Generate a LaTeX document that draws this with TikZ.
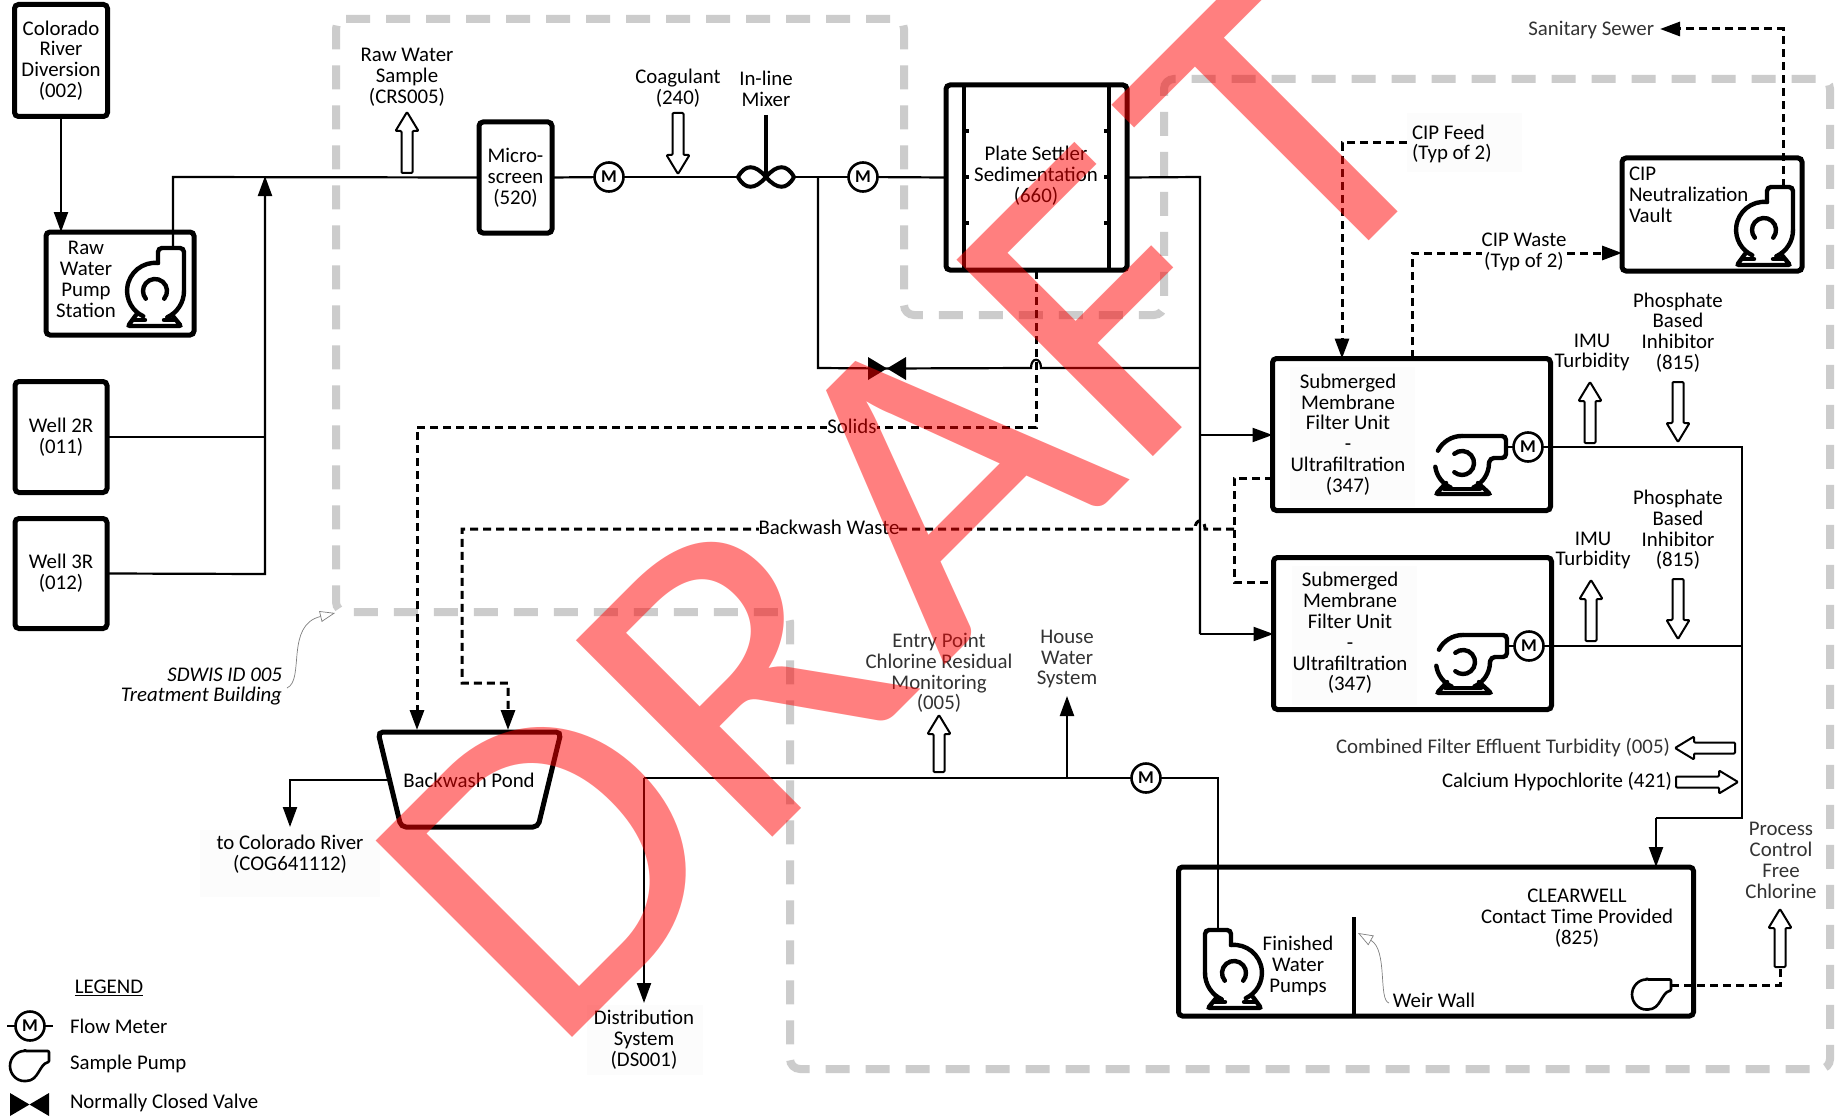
\documentclass[tikz,border=0pt]{standalone}
\usepackage{fontspec}
\setmainfont{Carlito}
\newfontfamily\draftfont[Kerning=Off]{Carlito}
\usetikzlibrary{arrows.meta}
\definecolor{bldggray}{HTML}{CCCCCC}
\definecolor{softtext}{HTML}{333333}
\definecolor{faintpanel}{HTML}{FCFCFC}
\tikzset{
  box/.style={draw=black,line width=5pt,rounded corners=4pt,inner sep=0pt,outer sep=0pt,align=center,font=\lab},
  lbl/.style={inner sep=0pt,outer sep=0pt,align=center,font=\lab},
  flow/.style={draw=black,line width=2.2pt},
  flowa/.style={flow,-{Triangle[length=20pt,width=14pt]}},
  dashln/.style={draw=black,line width=3pt,dash pattern=on 8pt off 5pt},
  dashar/.style={dashln,-{Triangle[length=20pt,width=14pt]}},
  bldg/.style={draw=bldggray,line width=8pt,dash pattern=on 24pt off 16pt,rounded corners=10pt},
  hollow/.style={draw=black,line width=2pt,fill=white,rounded corners=1pt,line join=round},
  meter/.style={circle,draw=black,line width=2.6pt,fill=white,minimum size=29pt,inner sep=0pt,outer sep=0pt,font=\fontsize{18}{18}\selectfont\bfseries},
  callout/.style={draw=gray,line width=.7pt,-{Triangle[open,fill=white,length=15pt,width=11pt]}},
  pump/.pic={
    \begin{scope}[y=1pt,line width=4.4pt,line cap=round]
      \draw (3,28) arc[start angle=84,end angle=245,radius=28pt];
      \draw[rounded corners=4pt] (3,28) -- (3,43) -- (29,43) -- (29,0);
      \draw (29,0) arc[start angle=0,end angle=-65,radius=29pt];
      \draw (9.2,-7.7) arc[start angle=-40,end angle=220,radius=12pt];
      \draw[rounded corners=2pt] (-19,-24) -- (-27,-35) -- (26,-35) -- (17,-24);
      \draw (-22,-29) -- (-10,-29) (9,-29) -- (20,-29);
    \end{scope}
  },
  fpump/.pic={
    \begin{scope}[y=1pt,line width=4.4pt,line cap=round]
      \draw (-24.1,12.3) arc[start angle=153,end angle=90,radius=27pt];
      \draw[rounded corners=4pt] (0,27) -- (44,27) -- (44,5) -- (28,5) -- (27,0);
      \draw (27,0) arc[start angle=0,end angle=-65,radius=27pt];
      \draw (-26.7,-3.8) arc[start angle=188,end angle=245,radius=27pt];
      \draw (-7.7,9.2) arc[start angle=130,end angle=-130,radius=12pt];
      \draw[rounded corners=2pt] (-16,-20) -- (-26,-31) -- (28,-31) -- (16,-20);
      \draw (-18,-26) -- (18,-26);
    \end{scope}
  },
  spump/.pic={
    \begin{scope}[y=1pt,line width=2.6pt,line join=round]
      \draw[rounded corners=1pt] (0,15) -- (24,15) -- (24,4) .. controls (14,2) and (14,-15) .. (0,-15) arc[start angle=-90,end angle=-270,radius=15pt] -- cycle;
    \end{scope}
  },
}
\newcommand{\lab}{\fontsize{20.85}{20.8}\selectfont}
\newcommand{\harrow}[4]{\draw[hollow,shift={(#1,#2)},rotate=#3,y=1pt] (0,0) -- (-11.5,-19) -- (-5.5,-19) -- (-5.5,-#4) -- (5.5,-#4) -- (5.5,-19) -- (11.5,-19) -- cycle;}
\begin{document}
\begin{tikzpicture}[x=1pt,y=-1pt]
\useasboundingbox (0,0) rectangle (1843,1118);
\fill[white] (0,0) rectangle (1843,1118);
\clip (0,0) rectangle (1843,1118);
% faint label panels
\fill[faintpanel] (200,830) rectangle (380,897);
\fill[faintpanel] (587,1005) rectangle (703,1075);
\fill[faintpanel] (1407,113) rectangle (1522,172);
\fill[faintpanel] (1290,367) rectangle (1415,507);
\fill[faintpanel] (1292,566) rectangle (1417,705);
% building outline
\draw[bldg] (336,19) -- (904,19) -- (904,315) -- (1164,315) -- (1164,79) -- (1830,79) -- (1830,1069) -- (790,1069) -- (790,612) -- (336,612) -- cycle;

% boxes
\node[box,minimum width=93pt,minimum height=112pt] (colorado) at (61,60.5) {Colorado\\River\\Diversion\\(002)};
\node[box,minimum width=148pt,minimum height=103pt] (rawbox) at (120,283.5) {};
\node[box,minimum width=92pt,minimum height=111pt] (well2) at (61,437) {Well 2R\\(011)};
\node[box,minimum width=92pt,minimum height=110pt] (well3) at (61,573.5) {Well 3R\\(012)};
\node[box,minimum width=73pt,minimum height=111pt] (micro) at (515.5,177.5) {Micro-\\screen\\(520)};
\node[box,minimum width=181pt,minimum height=185pt] (settler) at (1036.5,177.5) {};
\node[box,minimum width=180pt,minimum height=113pt] (cip) at (1712,214.5) {};
\node[box,minimum width=278pt,minimum height=152pt] (f1) at (1411.5,434.5) {};
\node[box,minimum width=278pt,minimum height=152pt] (f2) at (1412.5,633.5) {};
\node[box,minimum width=515pt,minimum height=149pt] (clear) at (1436,941.5) {};

% settler internals
\draw[line width=4.5pt] (964,84) -- (964,271) (1109,84) -- (1109,271);
\draw[line width=4pt] (964,131) -- (969,131) (964,177) -- (969,177) (964,223) -- (969,223)
  (1109,131) -- (1104,131) (1109,177) -- (1104,177) (1109,223) -- (1104,223);
% weir wall
\draw[line width=3.5pt] (1354,917) -- (1354,1017);

% junction coordinates
\coordinate (rawout) at (173,248);
\coordinate (mainL) at (173,177);
\coordinate (jw) at (265,177);
\coordinate (mixL) at (738,177);
\coordinate (mixR) at (796,177);
\coordinate (jrec) at (818,177);
\coordinate (jset) at (1200,177);
\coordinate (recb) at (818,368);
\coordinate (jvr) at (1200,368);
\coordinate (hopA) at (1031,368);
\coordinate (hopB) at (1041,368);
\coordinate (jf1) at (1200,435);
\coordinate (jf2) at (1200,634);
\coordinate (w2j) at (265,437);
\coordinate (w3j) at (265,574);
\coordinate (valve) at (887,368.5);

% meters
\node[meter] (m1) at (609,177) {M};
\node[meter] (m2) at (863,177) {M};
\node[meter] (m3) at (1528,447) {M};
\node[meter] (m4) at (1529,646) {M};
\node[meter] (m5) at (1146,778) {M};

% raw water lines
\draw[flowa] (colorado.south) -- (colorado.south |- rawbox.north);
\draw[flow] (rawout) -- (mainL) -- (micro.west);
\draw[flow] (well2.east) -- (w2j);
\draw[flowa,shorten >=-1pt] (well3.east) -- (w3j) -- (jw);
\draw[flow] (micro.east) -- (m1);
\draw[flow] (m1) -- (mixL);
\draw[flow] (mixR) -- (m2);
\draw[flow] (m2) -- (settler.west);
\draw[flow] (settler.east) -- (jset) -- (jf2);
\draw[flowa] (jf1) -- (f1.west |- jf1);
\draw[flowa] (jf2) -- (f2.west |- jf2);
\draw[flow] (jrec) -- (recb) -- (valve);
\draw[flow] (valve) -- (hopA) .. controls (1031,357) and (1041,357) .. (hopB) -- (jvr);
\fill (868,357) -- (868,380) -- (valve) -- cycle;
\fill (906,357) -- (906,380) -- (valve) -- cycle;

% mixer
\draw[line width=4pt] (766,115) -- (766,177);
\draw[line width=4pt] (766,177) .. controls (755,164) and (745,164) .. (mixL) .. controls (745,190) and (755,190) .. (766,177)
  .. controls (777,164) and (787,164) .. (794,177) .. controls (787,190) and (777,190) .. (766,177);

% filter output lines
\coordinate (jout1) at (1742,447);
\coordinate (jout2) at (1742,646);
\coordinate (jout3) at (1742,818);
\coordinate (jout4) at (1656,818);
\coordinate (o1) at (1506,447);
\coordinate (o2) at (1507,646);
\draw[flow] (o1) -- (m3);
\draw[flow] (o2) -- (m4);
\draw[flow] (m3) -- (jout1) -- (jout3) -- (jout4);
\draw[flow] (m4) -- (jout2);
\draw[flowa] (jout4) -- (jout4 |- clear.north);

% finished water
\coordinate (fpout) at (1218,928);
\coordinate (fpup) at (1218,778);
\coordinate (distj) at (644,778);
\coordinate (housej) at (1067,778);
\coordinate (housetip) at (1067,696);
\coordinate (disttip) at (644,1003);
\draw[flow] (fpout) -- (fpup) -- (m5);
\draw[flow] (m5) -- (distj);
\draw[flowa] (housej) -- (housetip);
\draw[flowa] (distj) -- (disttip);

% pond
\draw[line width=5pt,rounded corners=5pt] (378,732) -- (561,732) -- (538,827) -- (401,827) -- cycle;
\node[lbl] (pond) at (469,780) {Backwash Pond};
\coordinate (pondw) at (388,780);
\coordinate (pondj) at (290,780);
\coordinate (pondtip) at (290,827);
\draw[flowa] (pondw) -- (pondj) -- (pondtip);

% dashed lines
\coordinate (setb) at (1036,271);
\coordinate (solc) at (1036,427);
\coordinate (soll) at (417,427);
\coordinate (solt) at (417,730);
\draw[dashar] (setb) -- (solc) -- (soll) -- (solt);
\coordinate (bwj) at (1234,529);
\coordinate (bwh1) at (1205,529);
\coordinate (bwh2) at (1195,529);
\coordinate (bwl) at (462,529);
\coordinate (bwd) at (462,683);
\coordinate (bwr) at (508,683);
\coordinate (bwt) at (508,730);
\draw[dashar] (bwj) -- (bwh1) .. controls (1205,518) and (1195,518) .. (bwh2) -- (bwl) -- (bwd) -- (bwr) -- (bwt);
\coordinate (bf1) at (1273,478);
\coordinate (bfa) at (1234,478);
\coordinate (bfb) at (1234,582);
\coordinate (bf2) at (1274,582);
\draw[dashln] (bf1) -- (bfa) -- (bfb) -- (bf2);
\coordinate (cfs) at (1407,143);
\coordinate (cfc) at (1342,143);
\draw[dashar] (cfs) -- (cfc) -- (cfc |- f1.north);
\coordinate (cwb) at (1412,358);
\coordinate (cwc) at (1412,253);
\draw[dashar] (cwb) -- (cwc) -- (cwc -| cip.west);
\coordinate (ssb) at (1783,187);
\coordinate (ssc) at (1783,29);
\coordinate (sst) at (1660,29);
\draw[dashar] (ssb) -- (ssc) -- (sst);
\coordinate (sps) at (1671,985);
\coordinate (spc) at (1780,985);
\coordinate (spu) at (1780,967);
\draw[dashln] (sps) -- (spc) -- (spu);

% pumps
\pic at (155,291) {pump};
\pic at (1764,230) {pump};
\pic[xscale=-1] at (1234,973) {pump};
\pic at (1462,463) {fpump};
\pic at (1463,662) {fpump};
\pic at (1647,994.5) {spump};
\pic at (25,1066) {spump};

% hollow arrows
\harrow{407}{112}{0}{61}
\harrow{678}{174}{180}{61}
\harrow{1590}{382}{0}{61}
\harrow{1678}{442}{180}{60}
\harrow{1591}{580}{0}{61}
\harrow{1678}{639}{180}{60}
\harrow{939}{715}{0}{57}
\harrow{1675}{748}{90}{60}
\harrow{1738}{782}{-90}{62}
\harrow{1780}{909}{0}{58}

% labels
\node[lbl] (lrws) at (407,77.5) {Raw Water\\Sample\\(CRS005)};
\node[lbl] (lrwp) at (86,279.5) {Raw\\Water\\Pump\\Station};
\node[lbl] (lcoag) at (678,88.5) {Coagulant\\(240)};
\node[lbl] (lmix) at (766,89) {In-line\\Mixer};
\node[lbl] (lset) at (1036,176) {Plate Settler\\Sedimentation\\(660)};
\node[lbl,text=softtext,anchor=east] (lsan) at (1654,30) {Sanitary Sewer};
\node[lbl,align=left,anchor=west] (lcf) at (1412,144) {CIP Feed\\ (Typ of 2)};
\node[lbl,fill=white] (lcw) at (1524,252) {CIP Waste\\(Typ of 2)};
\node[lbl,align=left,anchor=west] (lcipn) at (1629,195) {CIP\\Neutralization\\Vault};
\node[lbl] (limu1) at (1592,352.5) {IMU\\Turbidity};
\node[lbl] (lpho1) at (1678,332.5) {Phosphate\\Based\\Inhibitor\\(815)};
\node[lbl] (limu2) at (1593,550.5) {IMU\\Turbidity};
\node[lbl] (lpho2) at (1678,530) {Phosphate\\Based\\Inhibitor\\(815)};
\node[lbl] (lf1) at (1348,434.5) {Submerged\\Membrane\\Filter Unit\\-\\Ultrafiltration\\(347)};
\node[lbl] (lf2) at (1350,633) {Submerged\\Membrane\\Filter Unit\\-\\Ultrafiltration\\(347)};
\node[lbl,fill=white] (lsol) at (852,426) {Solids};
\node[lbl,fill=white] (lbw) at (829,527) {Backwash Waste};
\node[lbl,text=softtext,anchor=east] (lcomb) at (1670,748) {Combined Filter Effluent Turbidity (005)};
\node[lbl,anchor=east] (lcal) at (1672,782) {Calcium Hypochlorite (421)};
\node[lbl,text=softtext] (lpc) at (1781,860.5) {Process\\Control\\Free\\Chlorine};
\node[lbl] (lcl) at (1577,918) {CLEARWELL\\Contact Time Provided\\(825)};
\node[lbl] (lfwp) at (1298,966) {Finished\\Water\\Pumps};
\node[lbl] (lweir) at (1434,1000) {Weir Wall};
\node[lbl,text=softtext] (lep) at (939,673) {Entry Point\\Chlorine Residual\\Monitoring\\(005)};
\node[lbl,text=softtext] (lhw) at (1067,659) {House\\Water\\System};
\node[lbl] (ldist) at (644,1039.5) {Distribution\\System\\(DS001)};
\node[lbl] (lcol) at (290,854) {to Colorado River\\(COG641112)};
\node[lbl,align=right,anchor=east,font=\lab\itshape] (lsd) at (282,686.5) {SDWIS ID 005\\Treatment Building};

% callouts
\coordinate (csd) at (287,688);
\coordinate (cwr) at (1389,1003);
\draw[callout] (csd) .. controls (305,680) and (285,625) .. (335,613);
\draw[callout] (cwr) .. controls (1378,1000) and (1388,950) .. (1358,933);

% legend
\node[lbl] (lleg) at (109,988) {\underline{LEGEND}};
\coordinate (lgl) at (7,1026);
\coordinate (lgr) at (53,1026);
\draw[flow] (lgl) -- (lgr);
\node[meter] (m6) at (30,1026) {M};
\fill (10,1093) -- (10,1116) -- (29.5,1104.5) -- cycle;
\fill (49,1093) -- (49,1116) -- (29.5,1104.5) -- cycle;
\node[lbl,anchor=west] (lfm) at (70,1026) {Flow Meter};
\node[lbl,anchor=west] (lsp) at (70,1063.5) {Sample Pump};
\node[lbl,anchor=west] (lncv) at (70,1103) {Normally Closed Valve};

% watermark
\begin{scope}[shift={(550,1060)},rotate=45,xscale=1.06]
\node[transform shape,inner sep=0pt,anchor=base west,text=red,text opacity=0.5,font=\fontsize{433}{433}\draftfont] (draft) at (0,0) {DR\kern23pt AF\kern33pt T};
\end{scope}
\end{tikzpicture}
\end{document}
